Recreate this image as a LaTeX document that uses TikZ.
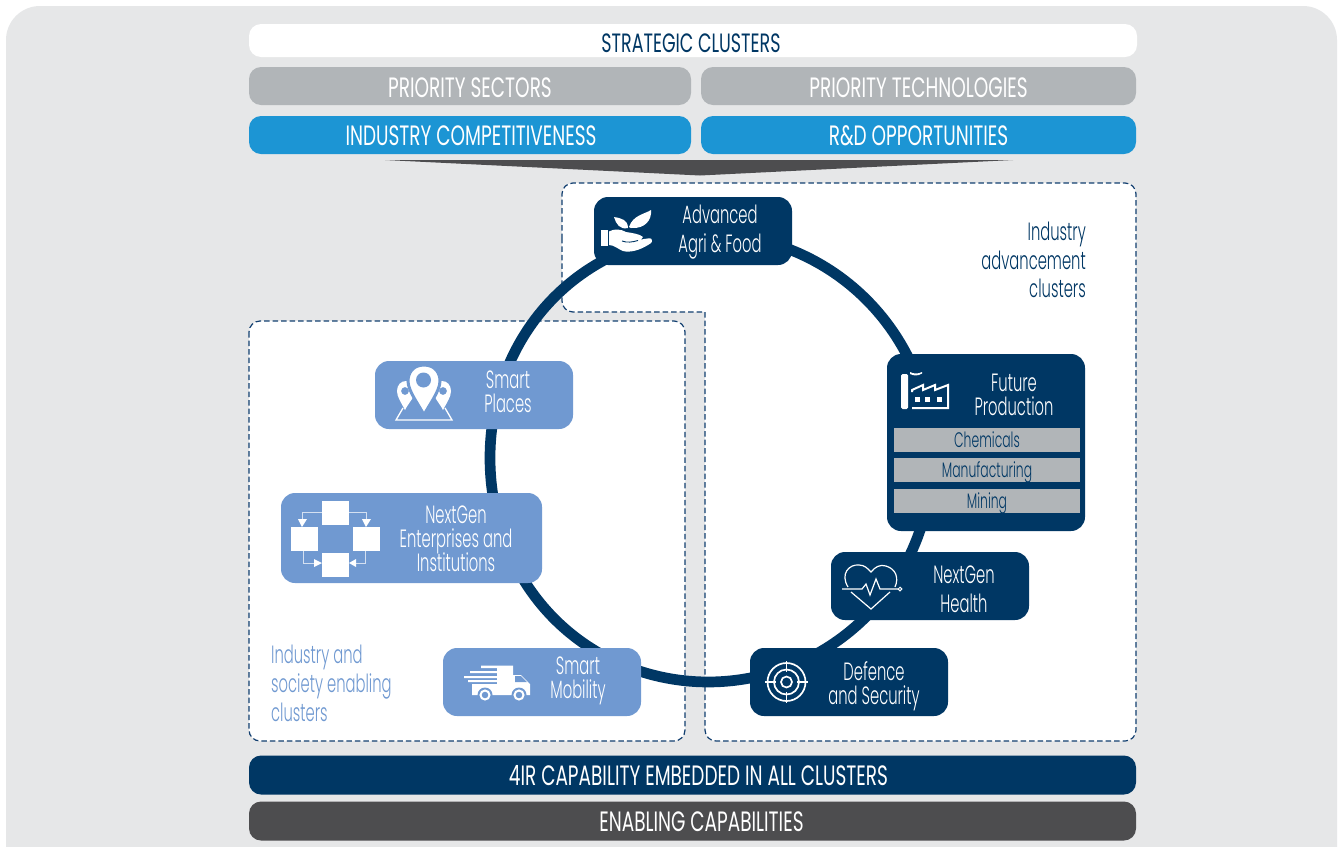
\documentclass[tikz,border=0pt]{standalone}
\usepackage{fontspec}
\setmainfont{Poppins}[UprightFont=* Light,BoldFont=* Light,FakeStretch=0.59]
\newfontfamily\headfont{Poppins}[FakeStretch=0.66]
\definecolor{bgc}{HTML}{E6E7E8}
\definecolor{navy}{HTML}{003764}
\definecolor{lblue}{HTML}{7099D1}
\definecolor{greyb}{HTML}{B1B5B8}
\definecolor{blueb}{HTML}{1C95D4}
\definecolor{darkb}{HTML}{4D4D4F}
\definecolor{dashc}{HTML}{123F70}
\tikzset{
 x=1pt,y=-1pt,
 boxb/.style={rounded corners=12pt,inner sep=0pt,draw=none},
 banner/.style={boxb,minimum height=#1,text=white,text height=20pt,text depth=0pt,font=\headfont\fontsize{28}{30}\selectfont},
 panel/.style={fill=white,draw=dashc,line width=1.2pt,dash pattern=on 5.5pt off 3pt},
 navybox/.style={boxb,fill=navy,rounded corners=14pt},
 lightbox/.style={boxb,fill=lblue,rounded corners=14pt},
 lab/.style={inner sep=0pt,align=center,text=white,text height=17pt,text depth=0pt,font=\fontsize{25}{27}\selectfont},
 subbar/.style={fill=greyb,inner sep=0pt,minimum width=186pt,minimum height=24pt,text=navy,text height=14.5pt,text depth=0pt,font=\fontsize{21}{24}\selectfont},
}
\begin{document}
\begin{tikzpicture}
\useasboundingbox (0,0) rectangle (1341,847);
\fill[white] (0,0) rectangle (1341,847);
\node[fill=bgc,rounded corners=34pt,minimum width=1331pt,minimum height=880pt,inner sep=0pt] (bg) at (671.5,446) {};
\fill[white] (0,847) rectangle (1341,860);
% banners
\node[banner=33pt,fill=white,text=navy,minimum width=888pt,text height=23pt,font=\headfont\fontsize{26.5}{30}\selectfont] (strat) at (693,40.5) {STRATEGIC CLUSTERS\hspace*{4pt}};
\node[banner=38pt,fill=greyb,minimum width=442pt,text height=23pt] (psec) at (470,86) {PRIORITY SECTORS};
\node[banner=38pt,fill=greyb,minimum width=435pt,text height=23pt] (ptech) at (918.5,86) {PRIORITY TECHNOLOGIES};
\node[banner=38pt,fill=blueb,minimum width=442pt] (ind) at (470,135) {\hspace*{2pt}INDUSTRY COMPETITIVENESS};
\node[banner=38pt,fill=blueb,minimum width=435pt] (rd) at (918.5,135) {R\&D OPPORTUNITIES};
\fill[darkb] (385,160) -- (1013,160) -- (700,175.5) -- cycle;
% panels
\draw[panel] (562,250) [rounded corners=11pt] -- (562,183) -- (1136,183) -- (1136,741) -- (705,741) [sharp corners] -- (705,312) [rounded corners=11pt] -- (562,312) -- cycle;
\draw[panel,rounded corners=11pt] (249,321) rectangle (685,741);
% ring
\draw[navy,line width=10.7pt] plot[variable=\t,domain=0:357,samples=120,smooth cycle] ({708+(224-6*((1-cos(\t))/2)^8)*cos(\t)},{458+(224-6*((1-cos(\t))/2)^8)*sin(\t)});
% cluster boxes
\node[navybox,minimum width=198pt,minimum height=68pt] (adv) at (693,231) {};
\node[navybox,minimum width=198pt,minimum height=177pt] (fut) at (986,442.5) {};
\node[navybox,minimum width=198pt,minimum height=68pt] (hea) at (930,586) {};
\node[navybox,minimum width=198pt,minimum height=68pt] (def) at (849,682) {};
\node[lightbox,minimum width=198pt,minimum height=68pt] (mob) at (542,682) {};
\node[lightbox,minimum width=261pt,minimum height=90pt] (ent) at (411.5,538) {};
\node[lightbox,minimum width=198pt,minimum height=68pt] (pla) at (474,395) {};
% labels
\node[lab] (advl1) at (720,215) {Advanced};
\node[lab] (advl2) at (720,244) {Agri \& Food};
\node[lab] (futl1) at (1014,383) {Future};
\node[lab] (futl2) at (1014,407) {Production};
\node[subbar] (chem) at (987,440) {Chemicals};
\node[subbar] (manu) at (987,470) {Manufacturing};
\node[subbar] (mini) at (987,501) {Mining};
\node[lab] (heal1) at (964,575) {NextGen};
\node[lab] (heal2) at (964,604) {Health};
\node[lab] (defl1) at (874,672) {Defence};
\node[lab] (defl2) at (874,696) {and Security};
\node[lab] (mobl1) at (578,666) {Smart};
\node[lab] (mobl2) at (578,690) {Mobility};
\node[lab] (entl1) at (456,515) {NextGen};
\node[lab] (entl2) at (456,539) {Enterprises and};
\node[lab] (entl3) at (456,563) {Institutions};
\node[lab] (plal1) at (508,380) {Smart};
\node[lab] (plal2) at (508,404) {Places};
\node[lab,text=navy,anchor=east] (advc1) at (1086,232) {Industry};
\node[lab,text=navy,anchor=east] (advc2) at (1086,261) {advancement};
\node[lab,text=navy,anchor=east] (advc3) at (1086,289) {clusters};
\node[lab,text=lblue,anchor=west] (enc1) at (271,655) {Industry and};
\node[lab,text=lblue,anchor=west] (enc2) at (271,684) {society enabling};
\node[lab,text=lblue,anchor=west] (enc3) at (271,713) {clusters};
% bottom banners
\node[banner=39pt,fill=navy,minimum width=887pt] (fir) at (692.5,775) {\hspace*{12pt}4IR CAPABILITY EMBEDDED IN ALL CLUSTERS};
\node[banner=39pt,fill=darkb,minimum width=887pt] (ena) at (692.5,821) {\hspace*{18pt}ENABLING CAPABILITIES};
% --- icon: hand and leaves
\fill[white] (601,229.5) rectangle (607.5,246);
\fill[white] (609,231.5) .. controls (614,228.5) and (621,229) .. (626,232) .. controls (632,233) and (640,234) .. (643,237) .. controls (643,239) and (640,240) .. (637,240.5) .. controls (642,239.5) and (647,238) .. (651,238.5) .. controls (653,241) and (652,243) .. (648,245) .. controls (640,250) and (630,253) .. (623,251) .. controls (618,249) and (614,245) .. (609,245) -- cycle;
\draw[navy,line width=.9pt] (622,241) .. controls (627,243) and (633,242) .. (638,240.5);
\fill[white] (629,227) .. controls (633,215) and (645,214) .. (651,210) .. controls (652,220) and (645,229) .. (631,228) -- cycle;
\fill[white] (628,228) .. controls (628,220) and (621,218) .. (614,217) .. controls (616,224) and (620,230) .. (628,228) -- cycle;
% --- icon: factory
\fill[white,rounded corners=1.5pt] (901,374) rectangle (908,409);
\fill[white] (910,372) .. controls (914,374) and (918,374) .. (922,372) -- (922,373.5) .. controls (918,376) and (914,376) .. (910,374) -- cycle;
\draw[white,line width=2pt] (912,392) -- (912,390) -- (923,385) -- (923,390) -- (935,385) -- (935,390) -- (948,385) -- (948,408) -- (912,408);
\foreach \xx in {915,925,937}{\fill[white] (\xx,397) rectangle (\xx+5,402);}
% --- icon: heart
\draw[white,line width=1.2pt] (848,587) .. controls (840,574) and (849,564) .. (859,565) .. controls (865,565) and (868,569) .. (871,572) .. controls (875,567) and (880,564) .. (886,566) .. controls (896,569) and (899,578) .. (895,587);
\draw[white,line width=1.2pt] (842,589) -- (862,589) -- (866,584) -- (870,595) -- (876,579) -- (880,589) -- (898,589);
\draw[white,line width=1pt] (900,589) circle (1.8pt);
\draw[white,line width=1.2pt] (851,592) -- (871,609) -- (890,592);
% --- icon: target
\draw[white,line width=1.7pt] (786.5,682) circle (19pt);
\draw[white,line width=1.7pt] (786.5,682) circle (12.5pt);
\draw[white,line width=1.7pt] (786.5,682) circle (5.5pt);
\draw[white,line width=1.7pt] (765,682) -- (776,682) (797,682) -- (808,682) (786.5,661) -- (786.5,672) (786.5,692) -- (786.5,703);
% --- icon: truck
\fill[white] (481,665.5) -- (513,665.5) -- (513,675) -- (521,675) -- (530,684) -- (530,695) -- (472,695) -- (472,684) -- (497,684) -- (497,682) -- (468,682) -- (468,680) -- (497,680) -- (497,678) -- (464,678) -- (464,676) -- (497,676) -- (497,673) -- (470,673) -- (470,671) -- (497,671) -- (497,668) -- (481,668) -- cycle;
\fill[lblue] (515,676) -- (521,676) -- (527,682) -- (515,682) -- cycle;
\foreach \xx in {485,519}{\fill[lblue] (\xx,695) circle (7.5pt); \draw[white,line width=2pt] (\xx,695) circle (4.5pt);}
% --- icon: pins
\draw[white,line width=1.3pt] (403,408) -- (396,420) -- (452,420) -- (445,408);
\fill[white,even odd rule] (405,410) .. controls (401,402) and (397,397) .. (397,391) .. controls (397,385) and (401,381) .. (406,381) .. controls (411,381) and (415,385) .. (415,391) .. controls (415,397) and (409,402) .. (405,410) -- cycle (405,391) circle (4pt);
\fill[white,even odd rule] (443,410) .. controls (447,402) and (451,397) .. (451,391) .. controls (451,385) and (447,381) .. (442,381) .. controls (437,381) and (433,385) .. (433,391) .. controls (433,397) and (439,402) .. (443,410) -- cycle (443,391) circle (4pt);
\draw[lblue,line width=3pt,fill=white] (424,365) .. controls (412,365) and (408,374) .. (408,381) .. controls (408,391) and (419,405) .. (424,415) .. controls (429,405) and (440,391) .. (440,381) .. controls (440,374) and (436,365) .. (424,365) -- cycle;
\fill[lblue] (423.5,380) circle (7.5pt);
% --- icon: flow boxes
\draw[white!70!lblue,line width=1pt] (322,512) -- (302,512) -- (302,522);
\draw[white!70!lblue,line width=1pt] (349,512) -- (366,512) -- (366,522);
\draw[white!70!lblue,line width=1pt] (303,551) -- (303,563) -- (316,563);
\draw[white!70!lblue,line width=1pt] (365,551) -- (365,563) -- (352,563);
\fill[white] (302,527) -- (298,519) -- (307,519) -- cycle;
\fill[white] (366,527) -- (362,519) -- (371,519) -- cycle;
\fill[white] (322,563) -- (314,559) -- (314,567) -- cycle;
\fill[white] (349,563) -- (356,559) -- (356,567) -- cycle;
\fill[white] (322,501) rectangle (349,525);
\fill[white] (291,527) rectangle (318,551);
\fill[white] (353,527) rectangle (380,551);
\fill[white] (322,553) rectangle (349,577);
\end{tikzpicture}
\end{document}
